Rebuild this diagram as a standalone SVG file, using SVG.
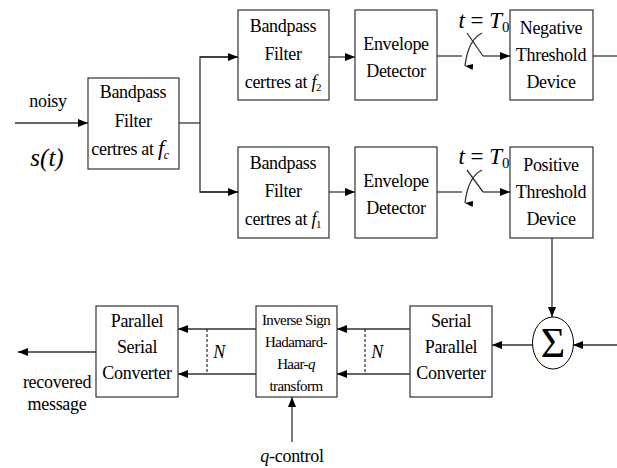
<svg xmlns="http://www.w3.org/2000/svg" width="617" height="468" viewBox="0 0 617 468">
<defs>
<marker id="ah" markerWidth="10" markerHeight="8" refX="10" refY="4" orient="auto" markerUnits="userSpaceOnUse">
<path d="M0,0 L10,4 L0,8 Z" fill="#000"/>
</marker>
<marker id="ahs" markerWidth="6" markerHeight="8" refX="3" refY="8" orient="auto-start-reverse" markerUnits="userSpaceOnUse">
<path d="M0,0 L3,8 L6,0 Z" fill="#000"/>
</marker>
</defs>
<style>
.box{fill:#fff;stroke:#333;stroke-width:1.2}
text{font-family:'Liberation Serif','Times New Roman',serif}
.t{font-size:18px;fill:#000;text-anchor:middle;letter-spacing:-0.3px}
.s{font-size:15px;letter-spacing:-0.6px}
.i{font-style:italic}
.ln{fill:none;stroke:#333;stroke-width:1.3}
.dash{fill:none;stroke:#000;stroke-width:1;stroke-dasharray:3,2}
</style>
<rect width="617" height="468" fill="#fff"/>
<g id="connectors">
<line class="ln" x1="15" y1="123" x2="88" y2="123" marker-end="url(#ah)"/>
<polyline class="ln" points="179,123 200,123"/>
<polyline class="ln" points="238,57 200,57 200,192 238,192"/>
<line class="ln" x1="200" y1="57" x2="238" y2="57" marker-end="url(#ah)"/>
<line class="ln" x1="200" y1="192" x2="238" y2="192" marker-end="url(#ah)"/>
<line class="ln" x1="329" y1="57" x2="355" y2="57" marker-end="url(#ah)"/>
<line class="ln" x1="329" y1="192" x2="355" y2="192" marker-end="url(#ah)"/>
<line class="ln" x1="437" y1="56" x2="462" y2="56"/>
<line class="ln" x1="467" y1="33" x2="483" y2="56"/>
<path class="ln" d="M482,33 Q468,40 465,66" marker-end="url(#ahs)"/>
<line class="ln" x1="483" y1="56" x2="510" y2="56" marker-end="url(#ah)"/>
<line class="ln" x1="593" y1="56" x2="617" y2="56"/>
<line class="ln" x1="437" y1="192" x2="462" y2="192"/>
<line class="ln" x1="467" y1="170" x2="483" y2="192"/>
<path class="ln" d="M482,170 Q468,177 465,203" marker-end="url(#ahs)"/>
<line class="ln" x1="483" y1="192" x2="510" y2="192" marker-end="url(#ah)"/>
<line class="ln" x1="552" y1="238" x2="552" y2="317" marker-end="url(#ah)"/>
<line class="ln" x1="617" y1="345" x2="573" y2="345" marker-end="url(#ah)"/>
<line class="ln" x1="533" y1="345" x2="492" y2="345" marker-end="url(#ah)"/>
<line class="ln" x1="410" y1="329" x2="337" y2="329" marker-end="url(#ah)"/>
<line class="ln" x1="410" y1="374" x2="337" y2="374" marker-end="url(#ah)"/>
<line class="dash" x1="365" y1="329" x2="365" y2="374"/>
<line class="ln" x1="256" y1="329" x2="178" y2="329" marker-end="url(#ah)"/>
<line class="ln" x1="256" y1="374" x2="178" y2="374" marker-end="url(#ah)"/>
<line class="dash" x1="207" y1="329" x2="207" y2="374"/>
<line class="ln" x1="96" y1="352" x2="18" y2="352" marker-end="url(#ah)"/>
<line class="ln" x1="292" y1="442" x2="292" y2="397" marker-end="url(#ah)"/>
</g>
<g id="labels">
<text class="t" x="48" y="107">noisy</text>
<text class="t i" x="47" y="166" style="font-size:25px;letter-spacing:0">s(t)</text>
<text class="t" x="484" y="28" style="font-size:23px;letter-spacing:0"><tspan font-style="italic">t</tspan> = <tspan font-style="italic">T</tspan><tspan font-size="15" dy="4">0</tspan></text>
<text class="t" x="484" y="164" style="font-size:23px;letter-spacing:0"><tspan font-style="italic">t</tspan> = <tspan font-style="italic">T</tspan><tspan font-size="15" dy="4">0</tspan></text>
<text class="t i" x="219" y="358">N</text>
<text class="t i" x="377" y="358">N</text>
<text class="t" x="57" y="388">recovered</text>
<text class="t" x="57" y="410">message</text>
<text class="t" x="292" y="462"><tspan font-style="italic">q</tspan>-control</text>
</g>
<g id="bpf-fc">
<rect class="box" x="88" y="78" width="91" height="91"/>
<text class="t" x="133" y="98">Bandpass</text>
<text class="t" x="133" y="127">Filter</text>
<text class="t" x="130" y="155">certres at <tspan font-style="italic" font-size="22">f</tspan><tspan font-style="italic" font-size="12" dy="4">c</tspan></text>
</g>
<g id="bpf-f2">
<rect class="box" x="238" y="10" width="91" height="90"/>
<text class="t" x="283" y="32">Bandpass</text>
<text class="t" x="283" y="60">Filter</text>
<text class="t" x="283" y="88">certres at <tspan font-style="italic">f</tspan><tspan font-size="11" dy="3">2</tspan></text>
</g>
<g id="env1">
<rect class="box" x="355" y="10" width="82" height="90"/>
<text class="t" x="396" y="50">Envelope</text>
<text class="t" x="396" y="77">Detector</text>
</g>
<g id="neg">
<rect class="box" x="510" y="10" width="83" height="90"/>
<text class="t" x="551" y="34">Negative</text>
<text class="t" x="551" y="61">Threshold</text>
<text class="t" x="551" y="88">Device</text>
</g>
<g id="bpf-f1">
<rect class="box" x="238" y="147" width="91" height="91"/>
<text class="t" x="283" y="169">Bandpass</text>
<text class="t" x="283" y="197">Filter</text>
<text class="t" x="283" y="225">certres at <tspan font-style="italic">f</tspan><tspan font-size="11" dy="3">1</tspan></text>
</g>
<g id="env2">
<rect class="box" x="355" y="147" width="82" height="91"/>
<text class="t" x="396" y="187">Envelope</text>
<text class="t" x="396" y="214">Detector</text>
</g>
<g id="pos">
<rect class="box" x="510" y="147" width="83" height="91"/>
<text class="t" x="551" y="171">Positive</text>
<text class="t" x="551" y="198">Threshold</text>
<text class="t" x="551" y="225">Device</text>
</g>
<g id="sum">
<ellipse cx="553" cy="343" rx="20.5" ry="26" fill="#fff" stroke="#000" stroke-width="1"/>
<text class="t" x="553" y="357" style="font-size:42px;letter-spacing:0">Σ</text>
</g>
<g id="sp">
<rect class="box" x="410" y="306" width="82" height="91"/>
<text class="t" x="451" y="327">Serial</text>
<text class="t" x="451" y="353">Parallel</text>
<text class="t" x="451" y="379">Converter</text>
</g>
<g id="ishh">
<rect class="box" x="256" y="306" width="81" height="91"/>
<text class="t s" x="296" y="325">Inverse Sign</text>
<text class="t s" x="296" y="347">Hadamard-</text>
<text class="t s" x="296" y="369">Haar-<tspan font-style="italic">q</tspan></text>
<text class="t s" x="296" y="391">transform</text>
</g>
<g id="ps">
<rect class="box" x="96" y="306" width="82" height="91"/>
<text class="t" x="137" y="327">Parallel</text>
<text class="t" x="137" y="353">Serial</text>
<text class="t" x="137" y="379">Converter</text>
</g>
</svg>
